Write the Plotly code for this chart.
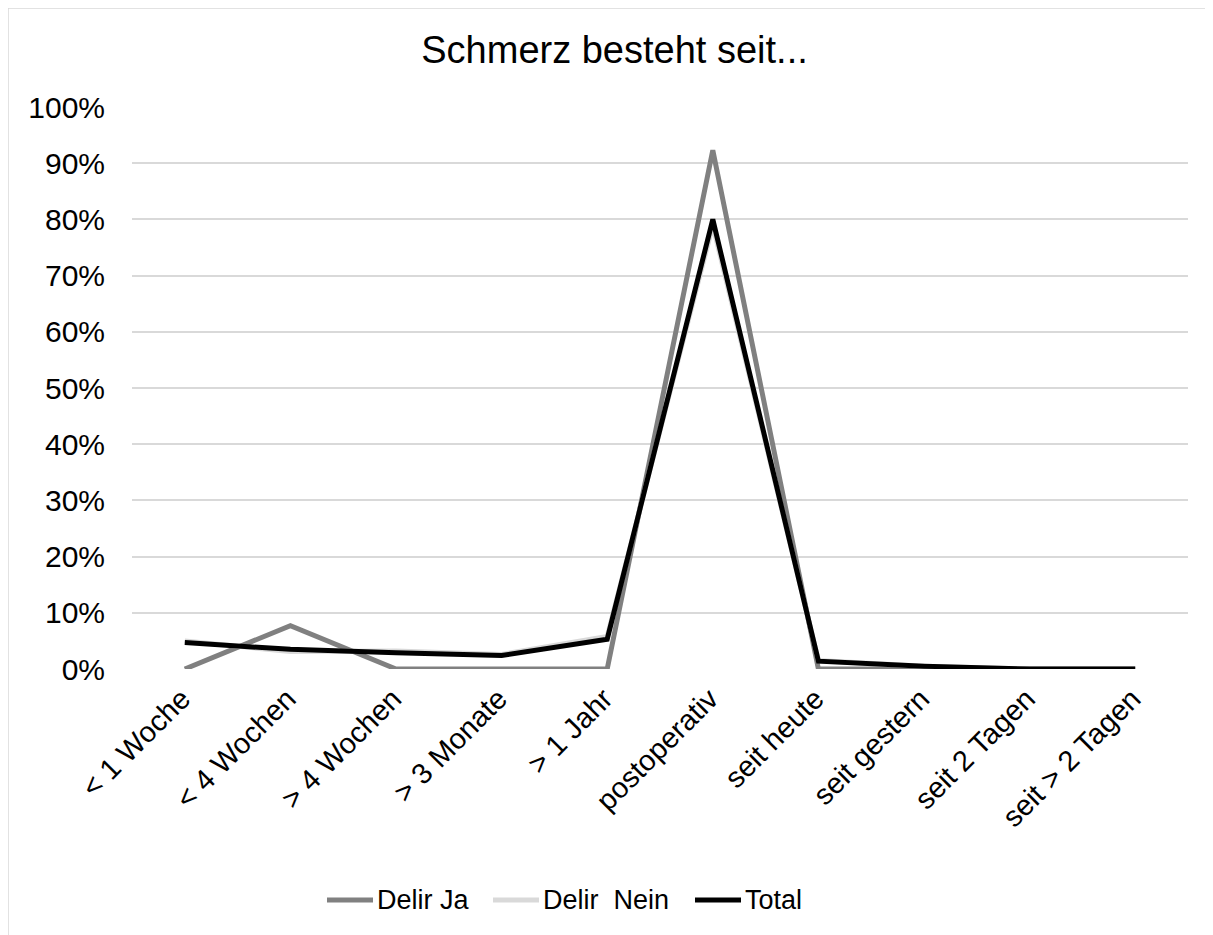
import plotly.graph_objects as go

categories = ["< 1 Woche", "< 4 Wochen", "> 4 Wochen", "> 3 Monate", "> 1 Jahr",
              "postoperativ", "seit heute", "seit gestern", "seit 2 Tagen", "seit > 2 Tagen"]
delir_ja = [0.0, 7.7, 0.0, 0.0, 0.0, 92.3, 0.0, 0.0, 0.0, 0.0]
delir_nein = [5.0, 3.1, 3.2, 2.6, 5.8, 79.0, 1.5, 0.5, 0.0, 0.0]
total = [4.7, 3.5, 2.9, 2.4, 5.3, 80.0, 1.4, 0.5, 0.0, 0.0]
y_ticks = [0, 10, 20, 30, 40, 50, 60, 70, 80, 90, 100]
y_ticklabels = [f"{v}%" for v in y_ticks]
series_names = ["Delir Ja", "Delir  Nein", "Total"]
series_colors = ["#808080", "#d9d9d9", "#000000"]

W, H = 1213, 935
L, R, T, B = 124, 33, 99, 274
pw, ph = W - L - R, H - T - B

def px_x(x):  # figure pixel -> paper x
    return (x - L) / pw

def px_y(y):  # figure pixel -> paper y
    return (T + ph - y) / ph

fig = go.Figure()
for name, vals, col in zip(series_names, [delir_ja, delir_nein, total], series_colors):
    fig.add_trace(go.Scatter(x=categories, y=vals, mode="lines", name=name,
                             line=dict(color=col, width=5), showlegend=False))

font = "Liberation Sans, Arial, sans-serif"
fig.update_layout(
    width=W, height=H,
    margin=dict(l=L, r=R, t=T, b=B, autoexpand=False),
    paper_bgcolor="white", plot_bgcolor="white",
    font=dict(family=font, size=28, color="black"),
    title=dict(text="Schmerz besteht seit...", x=0.5, xanchor="center",
               y=1 - 42 / H, yanchor="middle", font=dict(size=38, family=font)),
    xaxis=dict(type="category", range=[-0.5, 9.5], tickangle=-45, showgrid=False,
               showline=False, ticks="", zeroline=False,
               tickfont=dict(size=29), automargin=False,
               ticklabelstandoff=6, ticklabelshift=-3),
    yaxis=dict(range=[0, 100], tickvals=y_ticks, ticktext=y_ticklabels,
               showgrid=True, gridcolor="#d9d9d9", gridwidth=1.5, zeroline=False,
               showline=False, ticks="", tickfont=dict(size=30), automargin=False,
               ticklabelstandoff=26),
    showlegend=False,
)

# legend (line sample + label), positions in figure pixels
leg_y = 892
leg_line_x = [319, 485, 687]
leg_line_len = 46
for name, col, x0 in zip(series_names, series_colors, leg_line_x):
    fig.add_shape(type="line", xref="paper", yref="paper",
                  x0=px_x(x0), x1=px_x(x0 + leg_line_len), y0=px_y(leg_y), y1=px_y(leg_y),
                  line=dict(color=col, width=5))
    fig.add_annotation(text=name, xref="paper", yref="paper",
                       x=px_x(x0 + leg_line_len + 2), y=px_y(leg_y),
                       xanchor="left", yanchor="middle", showarrow=False,
                       font=dict(size=27, family=font, color="black"))

fig.add_shape(type="rect", xref="paper", yref="paper",
              x0=px_x(0), x1=px_x(W + 20),
              y0=px_y(H + 20), y1=px_y(0),
              line=dict(color="#d9d9d9", width=1.5), fillcolor="rgba(0,0,0,0)", layer="below")

fig.write_html("out.html")
